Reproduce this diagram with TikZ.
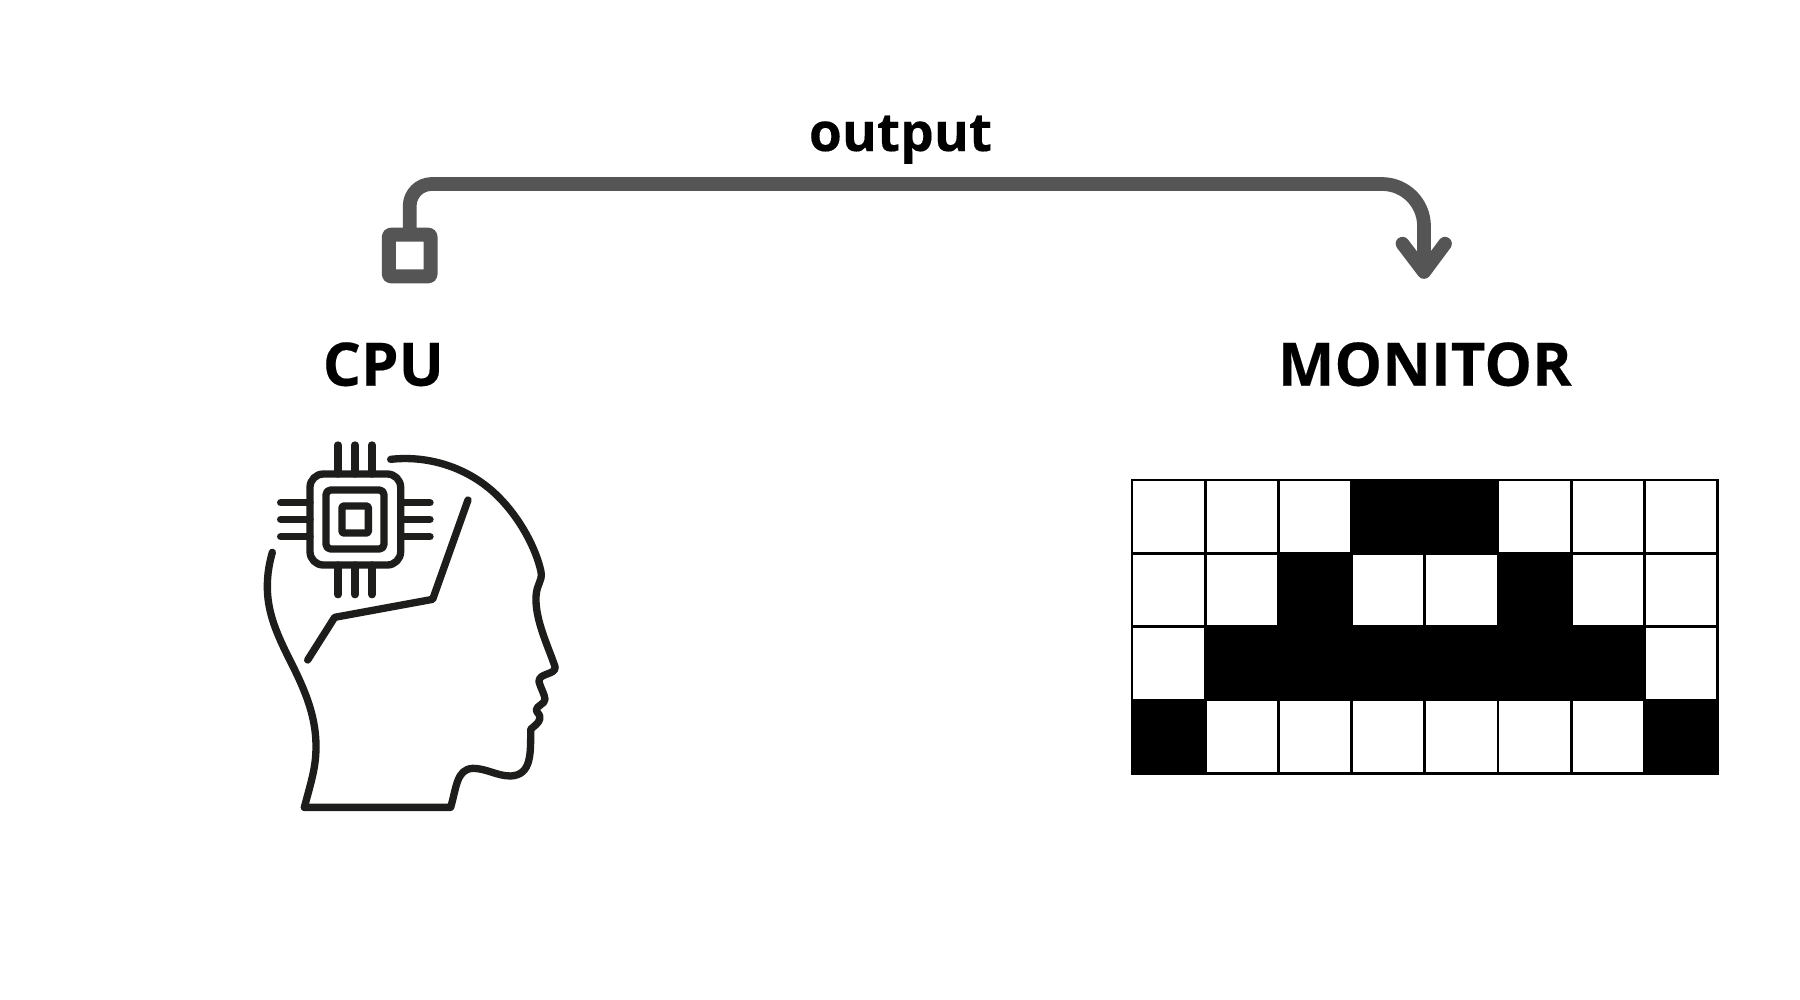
\documentclass[tikz,border=0pt]{standalone}
\usepackage{fontspec}
\setmainfont{Open Sans}[BoldFeatures={FakeBold=0.25}]
\definecolor{conn}{HTML}{555555}
\definecolor{ink}{HTML}{1D1D1B}
\tikzset{
 connline/.style={draw=conn,line width=10.3pt,line cap=round,line join=round},
 label/.style={anchor=base,inner sep=0pt,font=\fontsize{45}{45}\selectfont\bfseries},
 outlabel/.style={anchor=base,inner sep=0pt,font=\fontsize{40}{40}\selectfont\bfseries},
 srcbox/.style={draw=conn,line width=10.5pt,minimum width=31.2pt,minimum height=31.2pt,inner sep=0pt,outer sep=0pt,rounded corners=1.5pt,line join=round},
 icon/.style={draw=ink,line width=5.5pt,line cap=round,line join=round},
 cell/.style={draw=black,line width=2.1pt,fill=white},
 cellon/.style={draw=black,line width=2.1pt,fill=black},
}
\begin{document}
\begin{tikzpicture}[x=.75pt,y=-.75pt]
\useasboundingbox (0,0) rectangle (1800,1000);
\fill[white] (0,0) rectangle (1800,1000);
% labels
\node[outlabel] (out) at (900.5,151) {output};
\node[label] (cpu) at (383.4,385.7) {CPU};
\node[label] (mon) at (1424.8,385.7) {MONITOR};
% connector
\node[srcbox] (src) at (409.7,255.5) {};
\coordinate (tip) at (1424,272);
\coordinate (wl) at (1402.5,243.7);
\coordinate (wr) at (1445,243.7);
\draw[connline,line cap=butt] (src.north) -- ++(0,-28.7) arc[start angle=180,end angle=90,radius=16.5pt] -- (1382,184) arc[start angle=90,end angle=0,radius=31.5pt] -- (tip);
\draw[connline] (wl) -- (tip) -- (wr);
% grid
\foreach \r/\row in {0/{0,0,0,1,1,0,0,0},1/{0,0,1,0,0,1,0,0},2/{0,1,1,1,1,1,1,0},3/{1,0,0,0,0,0,0,1}}{
 \foreach \v [count=\c from 0] in \row {
  \ifnum\v=0
   \path[cell] ({1132+\c*73.2},{480+\r*73.3}) rectangle ++(73.2,73.3);
  \fi
 }
}
\foreach \r/\row in {0/{0,0,0,1,1,0,0,0},1/{0,0,1,0,0,1,0,0},2/{0,1,1,1,1,1,1,0},3/{1,0,0,0,0,0,0,1}}{
 \foreach \v [count=\c from 0] in \row {
  \ifnum\v=1
   \path[cellon] ({1132+\c*73.2},{480+\r*73.3}) rectangle ++(73.2,73.3);
  \fi
 }
}
% head icon, drawn in 3x coordinates
\begin{scope}[x=.25pt,y=-.25pt,shift={(180pt,-315pt)}]
\draw[icon] (452,118) .. controls (570,105) and (690,145) .. (775,230) .. controls (840,295) and (888,385) .. (903,455) .. controls (908,485) and (890,490) .. (888,530) .. controls (885,600) and (925,680) .. (945,740);
\draw[icon] (945,740) .. controls (950,765) and (895,758) .. (897,785) .. controls (900,800) and (915,825) .. (915,838) .. controls (915,852) and (888,858) .. (889,870) .. controls (890,880) and (903,882) .. (899,898) .. controls (896,910) and (880,920) .. (872,928) .. controls (872,1000) and (875,1065) .. (812,1068) .. controls (770,1068) and (740,1045) .. (698,1045) .. controls (650,1048) and (650,1100) .. (632,1162) -- (193,1162);
\draw[icon] (193,1162) .. controls (215,1080) and (228,1040) .. (228,980) .. controls (228,880) and (190,800) .. (141,703) .. controls (105,630) and (82,570) .. (82,500) .. controls (82,460) and (88,430) .. (97,397);
\draw[icon] (684,240) -- (578,538) -- (284,592) -- (203,720);
\draw[icon,rounded corners=10pt] (210,162) rectangle (482,435);
\draw[icon,rounded corners=3.5pt] (258,210) rectangle (432,387);
\draw[icon,rounded corners=1pt] (306,258) rectangle (385,339);
\foreach \p in {294,345,396}{
 \draw[icon] (\p,75) -- (\p,162);
 \draw[icon] (\p,435) -- (\p,524);
}
\foreach \p in {248,298,350}{
 \draw[icon] (122,\p) -- (210,\p);
 \draw[icon] (482,\p) -- (570,\p);
}
\end{scope}
\end{tikzpicture}
\end{document}
